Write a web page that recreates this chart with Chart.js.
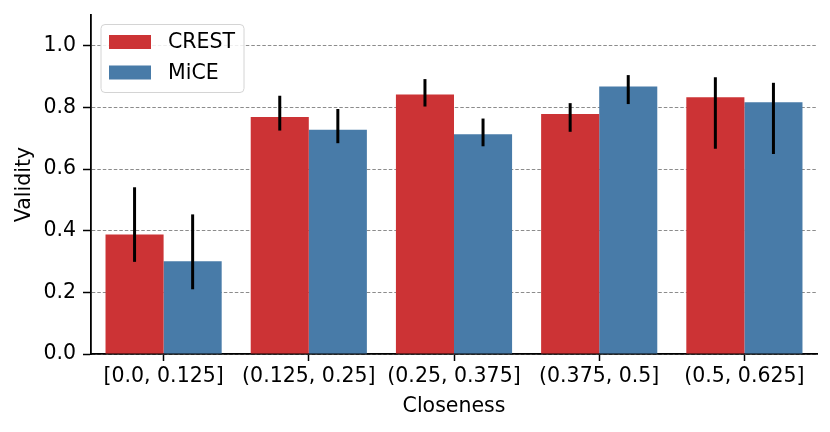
<!DOCTYPE html>
<html lang="en">
<head>
    <meta charset="UTF-8" />
    <title>Validity by closeness</title>
    <script src="https://cdn.jsdelivr.net/npm/chart.js"></script>
    <style>
        html, body { margin: 0; padding: 0; background: #ffffff; }
        #wrap { width: 830px; height: 432px; }
    </style>
</head>
<body>
<div id="wrap"><canvas id="validityChart" width="830" height="432"></canvas></div>

<script>
    // categories (closeness bins)
    const categories = ['[0.0, 0.125]', '(0.125, 0.25]', '(0.25, 0.375]', '(0.375, 0.5]', '(0.5, 0.625]'];

    // CREST: mean + error interval
    const crestValues = [0.388, 0.769, 0.842, 0.779, 0.833];
    const crestLow    = [0.299, 0.725, 0.803, 0.721, 0.666];
    const crestHigh   = [0.541, 0.838, 0.892, 0.814, 0.898];

    // MiCE: mean + error interval
    const miceValues = [0.301, 0.728, 0.713, 0.868, 0.817];
    const miceLow    = [0.210, 0.684, 0.674, 0.811, 0.649];
    const miceHigh   = [0.453, 0.795, 0.764, 0.905, 0.880];

    const yTicks = [0.0, 0.2, 0.4, 0.6, 0.8, 1.0];

    const FONT = "'DejaVu Sans', 'Liberation Sans', sans-serif";
    const FSIZE = 20.5;
    const RED = '#cc3335';
    const BLUE = '#487ba8';

    // error bars drawn through the y scale
    const errorBars = {
        id: 'errorBars',
        afterDatasetsDraw(chart) {
            const ctx = chart.ctx;
            const yScale = chart.scales.y;
            ctx.save();
            ctx.strokeStyle = '#000000';
            ctx.lineWidth = 3;
            ctx.lineCap = 'butt';
            chart.data.datasets.forEach((ds, i) => {
                const meta = chart.getDatasetMeta(i);
                meta.data.forEach((bar, j) => {
                    ctx.beginPath();
                    ctx.moveTo(bar.x, yScale.getPixelForValue(ds.errLow[j]));
                    ctx.lineTo(bar.x, yScale.getPixelForValue(ds.errHigh[j]));
                    ctx.stroke();
                });
            });
            ctx.restore();
        }
    };

    // matplotlib-like legend box in upper left
    const boxLegend = {
        id: 'boxLegend',
        afterDraw(chart) {
            const ctx = chart.ctx;
            const x0 = 101, y0 = 24.5, w = 143, h = 68;
            ctx.save();
            ctx.beginPath();
            ctx.roundRect(x0, y0, w, h, 4);
            ctx.fillStyle = 'rgba(255,255,255,0.85)';
            ctx.fill();
            ctx.strokeStyle = '#d4d4d4';
            ctx.lineWidth = 1;
            ctx.stroke();
            ctx.font = FSIZE + 'px ' + FONT;
            ctx.textBaseline = 'middle';
            chart.data.datasets.forEach((ds, i) => {
                const cy = 42 + i * 30.5;
                ctx.fillStyle = ds.backgroundColor;
                ctx.fillRect(109, cy - 7, 42, 14);
                ctx.fillStyle = '#000000';
                ctx.fillText(ds.label, 168, cy + 1);
            });
            ctx.restore();
        }
    };

    const ctx = document.getElementById('validityChart').getContext('2d');
    const validityChart = new Chart(ctx, {
        type: 'bar',
        data: {
            labels: categories,
            datasets: [
                {
                    label: 'CREST',
                    data: crestValues,
                    errLow: crestLow,
                    errHigh: crestHigh,
                    backgroundColor: RED,
                    borderWidth: 0,
                    categoryPercentage: 0.8,
                    barPercentage: 1.0
                },
                {
                    label: 'MiCE',
                    data: miceValues,
                    errLow: miceLow,
                    errHigh: miceHigh,
                    backgroundColor: BLUE,
                    borderWidth: 0,
                    categoryPercentage: 0.8,
                    barPercentage: 1.0
                }
            ]
        },
        options: {
            responsive: false,
            animation: false,
            layout: { padding: { left: 0, right: 13, top: 15, bottom: 0 } },
            plugins: {
                legend: { display: false },
                tooltip: { enabled: false }
            },
            scales: {
                x: {
                    grid: {
                        display: true,
                        drawOnChartArea: false,
                        drawTicks: true,
                        offset: false,
                        tickLength: 7,
                        tickColor: '#000000',
                        tickWidth: 1.5
                    },
                    border: { display: true, color: '#000000', width: 1.8 },
                    ticks: {
                        color: '#000000',
                        font: { family: FONT, size: FSIZE },
                        padding: 3,
                        maxRotation: 0,
                        autoSkip: false
                    },
                    title: {
                        display: true,
                        text: 'Closeness',
                        color: '#000000',
                        font: { family: FONT, size: FSIZE },
                        padding: { top: 0, bottom: 13 }
                    },
                    afterFit(scale) { scale.height = 78; }
                },
                y: {
                    min: 0,
                    max: 1.1,
                    afterBuildTicks(scale) {
                        scale.ticks = yTicks.map(v => ({ value: v }));
                    },
                    grid: {
                        color: '#8c8c8c',
                        lineWidth: 1,
                        drawTicks: true,
                        tickLength: 8,
                        tickColor: '#000000',
                        tickWidth: 1.5,
                        tickBorderDash: []
                    },
                    border: { display: true, color: '#000000', width: 1.8, dash: [3.5, 2] },
                    ticks: {
                        color: '#000000',
                        font: { family: FONT, size: FSIZE },
                        padding: 7,
                        callback: v => Number(v).toFixed(1)
                    },
                    title: {
                        display: true,
                        text: 'Validity',
                        color: '#000000',
                        font: { family: FONT, size: FSIZE },
                        padding: { top: 12, bottom: 0 }
                    },
                    afterFit(scale) {
                        scale.width = 91;
                        scale.paddingTop = 0;
                        scale.paddingBottom = 0;
                    }
                }
            }
        },
        plugins: [errorBars, boxLegend]
    });
</script>
</body>
</html>
